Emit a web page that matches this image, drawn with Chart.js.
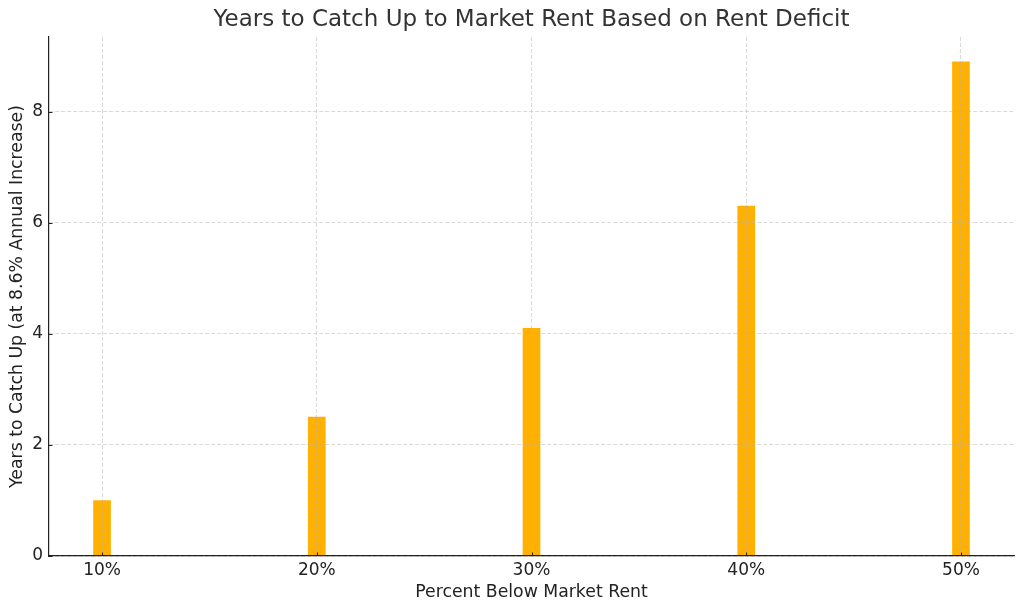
<!DOCTYPE html>
<html>
<head>
<meta charset="utf-8">
<script src="https://cdn.jsdelivr.net/npm/chart.js@4/dist/chart.umd.min.js"></script>
<style>
  html, body { margin: 0; padding: 0; background: #fff; }
  canvas { display: block; }
</style>
</head>
<body>
<canvas id="c" width="1024" height="611"></canvas>
<script>
const categories = [10, 20, 30, 40, 50];
const yearsToCatchUp = [1.0, 2.5, 4.1, 6.3, 8.9];
const xTicks = [10, 20, 30, 40, 50];
const yTicks = [0, 2, 4, 6, 8];

const font = "'DejaVu Sans', sans-serif";
const gridColor = 'rgba(176,176,176,0.6)';

// matplotlib-style inward tick marks
const inwardTicks = {
  id: 'inwardTicks',
  afterDraw(chart) {
    const ctx = chart.ctx;
    const xs = chart.scales.x, ys = chart.scales.y;
    const a = chart.chartArea;
    const len = 3.5;
    ctx.save();
    ctx.strokeStyle = '#222';
    ctx.lineWidth = 1;
    ctx.beginPath();
    xs.ticks.forEach(t => {
      const px = Math.round(xs.getPixelForValue(t.value)) + 0.5;
      ctx.moveTo(px, a.bottom);
      ctx.lineTo(px, a.bottom - len);
    });
    ys.ticks.forEach(t => {
      const py = Math.round(ys.getPixelForValue(t.value)) + 0.5;
      ctx.moveTo(a.left, py);
      ctx.lineTo(a.left + len, py);
    });
    ctx.stroke();
    ctx.restore();
  }
};

new Chart(document.getElementById('c'), {
  type: 'bar',
  data: {
    datasets: [{
      data: categories.map((c, i) => ({ x: c, y: yearsToCatchUp[i] })),
      backgroundColor: '#FFB000',
      borderWidth: 0,
      barThickness: 17
    }]
  },
  plugins: [inwardTicks],
  options: {
    responsive: false,
    animation: false,
    layout: { padding: { left: 0, right: 10, top: 0, bottom: 0 } },
    plugins: {
      legend: { display: false },
      tooltip: { enabled: false },
      title: {
        display: true,
        fullSize: false,
        text: 'Years to Catch Up to Market Rent Based on Rent Deficit',
        color: '#333333',
        font: { family: font, size: 23, weight: 'normal', lineHeight: 1.2 },
        padding: { top: 6, bottom: 3.4 }
      }
    },
    scales: {
      x: {
        type: 'linear',
        offset: false,
        min: 7.53,
        max: 52.47,
        afterBuildTicks: s => { s.ticks = xTicks.map(v => ({ value: v })); },
        afterFit: s => { s.height = 55; },
        grid: {
          z: 1,
          offset: false,
          color: gridColor,
          lineWidth: 0.8,
          drawTicks: false
        },
        border: { display: true, color: '#222', width: 1.2, dash: [4, 2], z: 2 },
        ticks: {
          color: '#222',
          font: { family: font, size: 17 },
          padding: 4,
          maxRotation: 0,
          callback: v => v + '%'
        },
        title: {
          display: true,
          text: 'Percent Below Market Rent',
          color: '#222',
          font: { family: font, size: 17.3 },
          padding: { top: 2, bottom: 8 }
        }
      },
      y: {
        type: 'linear',
        min: 0,
        max: 9.345,
        afterBuildTicks: s => { s.ticks = yTicks.map(v => ({ value: v })); },
        afterFit: s => { s.width = 49; },
        grid: {
          z: 1,
          color: gridColor,
          lineWidth: 0.8,
          drawTicks: false
        },
        border: { display: true, color: '#222', width: 1.2, dash: [4, 2], z: 2 },
        ticks: {
          color: '#222',
          font: { family: font, size: 17 },
          padding: 6
        },
        title: {
          display: true,
          text: 'Years to Catch Up (at 8.6% Annual Increase)',
          color: '#222',
          font: { family: font, size: 17.3 },
          padding: { top: 7, bottom: 2 }
        }
      }
    }
  }
});
</script>
</body>
</html>
